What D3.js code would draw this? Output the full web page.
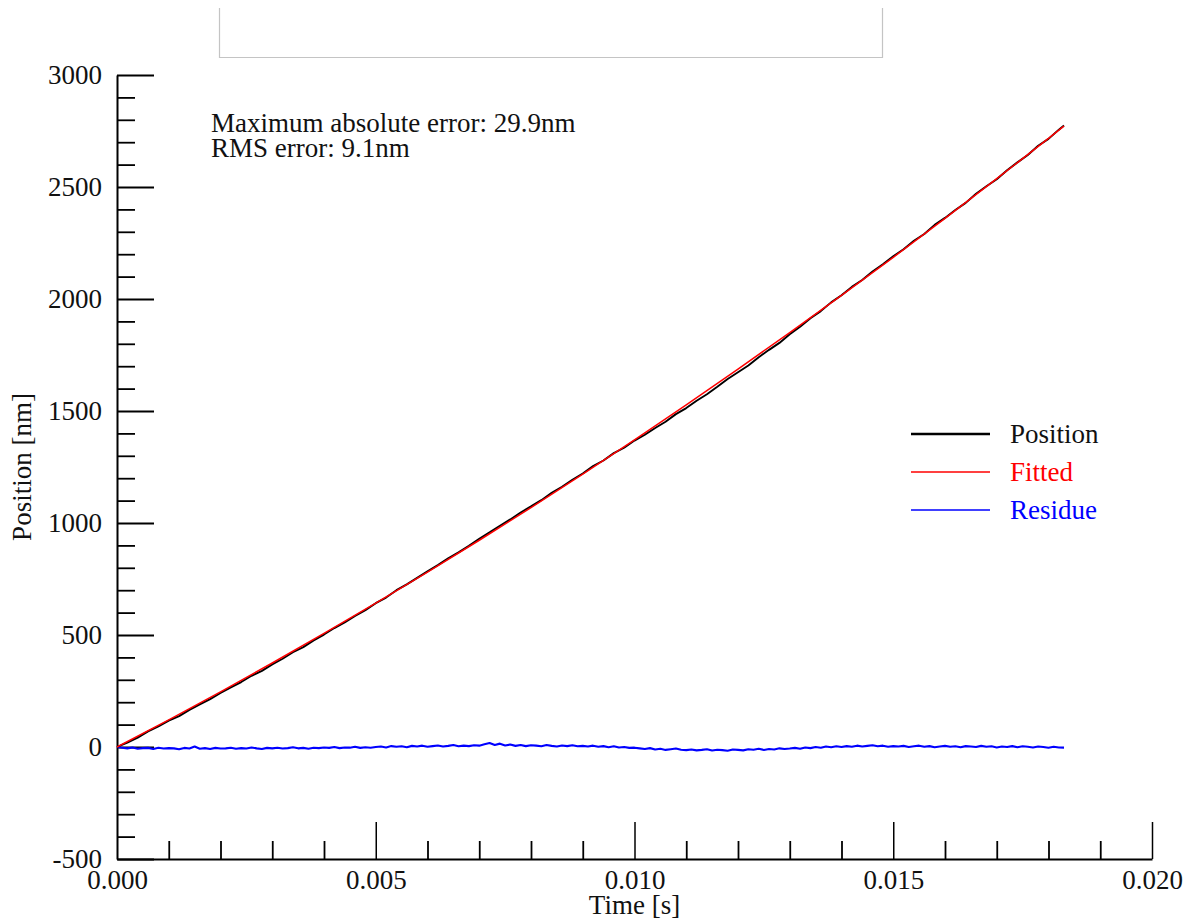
<!DOCTYPE html>
<html>
<head>
<meta charset="utf-8">
<script src="https://cdn.jsdelivr.net/npm/d3@7"></script>
<style>
  html, body { margin: 0; padding: 0; background: #fff; }
  svg { display: block; }
  text { font-family: "Liberation Serif", "Times New Roman", serif; }
</style>
</head>
<body>
<svg id="chart" width="1190" height="920"></svg>
<script>
// ---------------- DATA ----------------
// Position: sampled every 0.2 ms (seconds), last sample at 18.3 ms
const positionTimeMs = d3.range(0, 93).map(i => i < 92 ? i * 0.2 : 18.3);
const positionValues = [
  0, 20, 42, 70, 92, 118, 138, 166, 190, 214,
  241, 266, 290, 318, 340, 369, 394, 423, 446, 476,
  502, 531, 556, 585, 611, 642, 667, 700, 726, 755,
  784, 812, 842, 869, 898, 929, 958, 988, 1016, 1047,
  1074, 1102, 1135, 1162, 1193, 1221, 1254, 1279, 1312, 1336,
  1368, 1394, 1424, 1452, 1486, 1513, 1546, 1575, 1608, 1643,
  1673, 1703, 1740, 1773, 1804, 1843, 1876, 1914, 1946, 1985,
  2017, 2054, 2085, 2123, 2155, 2191, 2222, 2260, 2290, 2331,
  2362, 2397, 2429, 2470, 2503, 2535, 2575, 2610, 2643, 2684,
  2715, 2756, 2775
];

// Fitted: sampled every 1 ms, last sample at 18.3 ms
const fittedTimeMs = [0, 1, 2, 3, 4, 5, 6, 7, 8, 9, 10, 11, 12, 13, 14, 15, 16, 17, 18, 18.3];
const fittedValues = [0, 121, 246, 375, 507, 642, 781, 923, 1069, 1218, 1371, 1527, 1687, 1850, 2016, 2186, 2360, 2537, 2717, 2772];

// Residue: sampled every 0.1 ms from 0 to 18.3 ms
const residueTimeMs = d3.range(0, 184).map(i => i / 10);
const residueValues = [
  0, -3, -6, -2, -8, -5, -4, -9, -3, -7, -5,
  -6, -10, -4, -7, 2, -8, -5, -9, -4, -7,
  -6, -3, -8, -5, -7, -2, -6, -9, -4, -6,
  -3, -7, -5, -1, -6, -4, -8, -3, -5, -2,
  -4, 0, -5, -2, -3, 1, -4, -1, -3, 0,
  2, -2, 4, 1, 3, -1, 5, 2, 6, 1,
  4, 7, 2, 5, 9, 3, 6, 4, 8, 6,
  12, 18, 9, 15, 7, 11, 5, 9, 4, 8,
  6, 3, 9, 5, 2, 7, 4, 8, 3, 5,
  2, 6, 1, 4, -1, 3, -2, 0, -4, -3,
  -6, -9, -5, -11, -8, -13, -10, -7, -12, -14,
  -11, -15, -13, -10, -16, -12, -14, -17, -11, -13,
  -15, -10, -12, -8, -13, -9, -11, -6, -9, -7,
  -4, -8, -2, -5, 0, -3, 2, -1, 3, 0,
  4, 1, 6, 2, 5, 8, 3, 6, 1, 4,
  2, 5, 0, 3, 6, 1, 4, -1, 2, 5,
  1, 3, -1, 4, 2, 0, 5, 1, 3, -2,
  2, 0, 4, -1, 3, 1, -2, 2, 0, -3,
  1, -2, -3
];

const xMajorTicks = [0, 0.005, 0.010, 0.015, 0.020];
const xTickLabels = ["0.000", "0.005", "0.010", "0.015", "0.020"];
const yMajorTicks = [-500, 0, 500, 1000, 1500, 2000, 2500, 3000];
const yTickLabels = ["-500", "0", "500", "1000", "1500", "2000", "2500", "3000"];

const seriesNames = ["Position", "Fitted", "Residue"];
const seriesColors = ["#000000", "#ff0000", "#0000ff"];

const annotationLines = ["Maximum absolute error: 29.9nm", "RMS error: 9.1nm"];
const xTitle = "Time [s]";
const yTitle = "Position [nm]";

// ---------------- CHART ----------------
(function () {
const svg = d3.select("#chart");
const L = 117, R = 1152, T = 75, B = 859;
const FONT = 27;

const x = d3.scaleLinear().domain([0, 0.020]).range([L, R]);
const y = d3.scaleLinear().domain([-500, 3000]).range([B, T]);

// top (partially visible) frame
svg.append("path")
  .attr("d", `M219.5,8 V57.5 H882.5 V8`)
  .attr("fill", "none")
  .attr("stroke", "#c4c4c4")
  .attr("stroke-width", 1.2);

// minor ticks
const xMinor = d3.range(1, 20).map(i => i / 1000).filter(v => Math.round(v * 1000) % 5 !== 0);
const yMinor = d3.range(-400, 3000, 100).filter(v => v % 500 !== 0);

svg.append("g")
  .attr("transform", `translate(0,${B})`)
  .call(d3.axisBottom(x).tickValues(xMinor).tickSizeInner(-18).tickSizeOuter(0).tickFormat(""))
  .call(g => g.select(".domain").remove())
  .call(g => g.selectAll(".tick line").attr("stroke", "#000").attr("stroke-width", 1.8));

svg.append("g")
  .attr("transform", `translate(${L},0)`)
  .call(d3.axisLeft(y).tickValues(yMinor).tickSizeInner(-18).tickSizeOuter(0).tickFormat(""))
  .call(g => g.select(".domain").remove())
  .call(g => g.selectAll(".tick line").attr("stroke", "#000").attr("stroke-width", 1.8));

// major axes
const xAxis = svg.append("g")
  .attr("transform", `translate(0,${B})`)
  .call(d3.axisBottom(x).tickValues(xMajorTicks)
    .tickSizeInner(-37).tickSizeOuter(0).tickPadding(11)
    .tickFormat((d, i) => xTickLabels[i]));
xAxis.select(".domain").attr("stroke", "#000").attr("stroke-width", 2);
xAxis.selectAll(".tick line").attr("stroke", "#000").attr("stroke-width", 1.5);
xAxis.selectAll(".tick").filter(d => d === 0).select("line").remove();
xAxis.selectAll(".tick text")
  .attr("font-size", FONT)
  .attr("font-family", '"Liberation Serif", "Times New Roman", serif')
  .attr("fill", "#111");

const yAxis = svg.append("g")
  .attr("transform", `translate(${L},0)`)
  .call(d3.axisLeft(y).tickValues(yMajorTicks)
    .tickSizeInner(-37).tickSizeOuter(0).tickPadding(15)
    .tickFormat((d, i) => yTickLabels[i]));
yAxis.select(".domain").attr("stroke", "#000").attr("stroke-width", 2);
yAxis.selectAll(".tick line").attr("stroke", "#000").attr("stroke-width", 1.8);
yAxis.selectAll(".tick text")
  .attr("font-size", FONT)
  .attr("font-family", '"Liberation Serif", "Times New Roman", serif')
  .attr("fill", "#111");

// axis titles
svg.append("text")
  .attr("x", (L + R) / 2)
  .attr("y", 914)
  .attr("text-anchor", "middle")
  .attr("font-size", FONT)
  .attr("fill", "#111")
  .text(xTitle);

svg.append("text")
  .attr("transform", `translate(31,${(T + B) / 2}) rotate(-90)`)
  .attr("text-anchor", "middle")
  .attr("font-size", FONT)
  .attr("fill", "#111")
  .text(yTitle);

// data lines
const ms = v => v / 1000;
const positionData = positionTimeMs.map((t, i) => [ms(t), positionValues[i]]);
const fittedData = fittedTimeMs.map((t, i) => [ms(t), fittedValues[i]]);
const residueData = residueTimeMs.map((t, i) => [ms(t), residueValues[i]]);

const line = d3.line().x(d => x(d[0])).y(d => y(d[1]));
const smooth = d3.line().x(d => x(d[0])).y(d => y(d[1])).curve(d3.curveMonotoneX);

svg.append("path").datum(residueData)
  .attr("d", line).attr("fill", "none")
  .attr("stroke", seriesColors[2]).attr("stroke-width", 2.1)
  .attr("stroke-linejoin", "bevel");

svg.append("path").datum(positionData)
  .attr("d", line).attr("fill", "none")
  .attr("stroke", seriesColors[0]).attr("stroke-width", 1.9)
  .attr("stroke-linejoin", "bevel");

svg.append("path").datum(fittedData)
  .attr("d", smooth).attr("fill", "none")
  .attr("stroke", seriesColors[1]).attr("stroke-width", 1.5);

// annotation
annotationLines.forEach((s, i) => {
  svg.append("text")
    .attr("x", 211)
    .attr("y", 132 + i * 25)
    .attr("font-size", FONT)
    .attr("fill", "#111")
    .text(s);
});

// legend
const legendY = [434, 472, 510];
const legendWidths = [2.4, 1.4, 1.4];
seriesNames.forEach((name, i) => {
  svg.append("line")
    .attr("x1", 911).attr("x2", 990)
    .attr("y1", legendY[i]).attr("y2", legendY[i])
    .attr("stroke", seriesColors[i])
    .attr("stroke-width", legendWidths[i]);
  svg.append("text")
    .attr("x", 1010)
    .attr("y", legendY[i])
    .attr("dy", "0.33em")
    .attr("font-size", FONT)
    .attr("fill", seriesColors[i] === "#000000" ? "#111" : seriesColors[i])
    .text(name);
});
})();
</script>
</body>
</html>
